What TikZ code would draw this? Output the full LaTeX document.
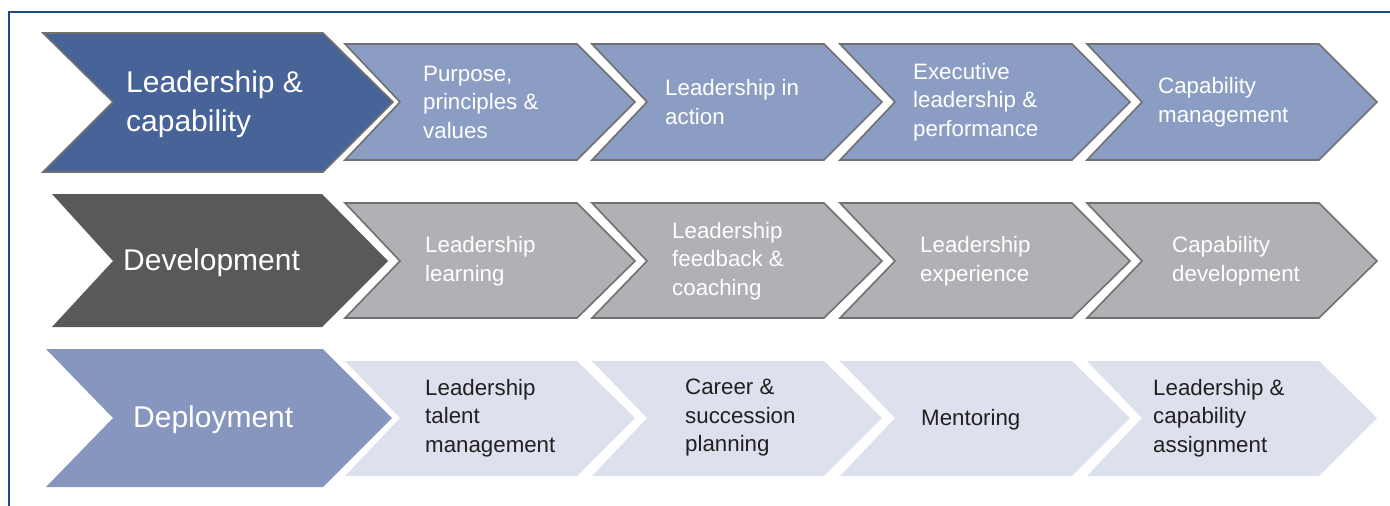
\documentclass[tikz,border=0pt]{standalone}
\usepackage{fontspec}
\setmainfont{Liberation Sans}
\definecolor{frameblue}{HTML}{1F4A8A}
\definecolor{edgegray}{HTML}{707070}
\definecolor{bigA}{HTML}{476397}
\definecolor{smallA}{HTML}{8C9DC4}
\definecolor{bigB}{HTML}{58595B}
\definecolor{smallB}{HTML}{B0B1B4}
\definecolor{bigC}{HTML}{8796BF}
\definecolor{smallC}{HTML}{DDE1EE}
\definecolor{darktext}{HTML}{231F20}
\begin{document}
\begin{tikzpicture}[x=1pt,y=-1pt,
  bigtxt/.style={anchor=west,align=left,text=white,inner sep=0pt,font=\fontsize{30}{39}\selectfont},
  smalltxt/.style={anchor=west,align=left,inner sep=0pt,font=\fontsize{22.3}{28.5}\selectfont},
  edged/.style={draw=edgegray,line width=1.6pt,line join=miter}]
\useasboundingbox (0,0) rectangle (1390,506);
\clip (0,0) rectangle (1390,506);
\fill[white] (0,0) rectangle (1390,506);
\draw[frameblue,line width=2pt] (9,12) rectangle (1420,530);
% big chevrons
\path[fill=bigA,edged] (43,33) -- (323,33) -- (393,102) -- (323,172) -- (43,172) -- (113,102) -- cycle;
\path[fill=bigB] (52,194) -- (322,194) -- (388,261) -- (322,327) -- (52,327) -- (113,261) -- cycle;
\path[fill=bigC] (46,349) -- (323,349) -- (392,418) -- (323,487) -- (46,487) -- (113,418) -- cycle;
% small chevrons
\foreach \x in {345,592,840,1087}{
  \path[fill=smallA,edged] (\x,44) -- ({\x+232},44) -- ({\x+290},102) -- ({\x+232},160) -- (\x,160) -- ({\x+55},102) -- cycle;
  \path[fill=smallB,edged] (\x,203) -- ({\x+232},203) -- ({\x+290},261) -- ({\x+232},318) -- (\x,318) -- ({\x+55},261) -- cycle;
  \path[fill=smallC] (\x,361) -- ({\x+232},361) -- ({\x+290},418) -- ({\x+232},476) -- (\x,476) -- ({\x+55},418) -- cycle;
}
% big labels
\node[bigtxt] (lc) at (126,104) {Leadership \&\\capability};
\node[bigtxt] (dev) at (123,263) {Development};
\node[bigtxt] (dep) at (133,420) {Deployment};
% row 1 labels
\node[smalltxt,text=white] (a1) at (423,102) {Purpose,\\principles \&\\values};
\node[smalltxt,text=white] (a2) at (665,102) {Leadership in\\action};
\node[smalltxt,text=white] (a3) at (913,102) {Executive\\leadership \&\\performance};
\node[smalltxt,text=white] (a4) at (1158,102) {Capability\\management};
% row 2 labels
\node[smalltxt,text=white] (b1) at (425,261) {Leadership\\learning};
\node[smalltxt,text=white] (b2) at (672,261) {Leadership\\feedback \&\\coaching};
\node[smalltxt,text=white] (b3) at (920,261) {Leadership\\experience};
\node[smalltxt,text=white] (b4) at (1172,261) {Capability\\development};
% row 3 labels
\node[smalltxt,text=darktext] (c1) at (425,418) {Leadership\\talent\\management};
\node[smalltxt,text=darktext] (c2) at (685,418) {Career \&\\succession\\planning};
\node[smalltxt,text=darktext] (c3) at (921,420) {Mentoring};
\node[smalltxt,text=darktext] (c4) at (1153,418) {Leadership \&\\capability\\assignment};
\end{tikzpicture}
\end{document}
